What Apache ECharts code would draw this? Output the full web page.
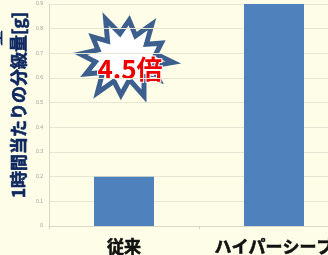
<!DOCTYPE html>
<html><head><meta charset="utf-8">
<script src="https://cdn.jsdelivr.net/npm/echarts@6/dist/echarts.min.js"></script>
<style>html,body{margin:0;padding:0;background:#FDFDE8;}#c{width:328px;height:255px;}</style>
</head><body><div id="c"></div>
<script>
const categories = ['従来', 'ハイパーシーブ'];
const values = [0.2, 0.9];
const yTicks = [0, 0.1, 0.2, 0.3, 0.4, 0.5, 0.6, 0.7, 0.8, 0.9];
const yTitle = '1時間当たりの分級量[g]';
const badge = '4.5倍';

// starburst decoration
const cx = 125, cy = 58;
const outerR = [40, 44, 38, 46, 40, 44, 39, 45, 41, 43, 38, 45];
const innerR = [25, 23, 26, 24, 25, 23, 26, 24, 25, 24, 23, 26];
const starPts = [];
for (let i = 0; i < outerR.length; i++) {
  const a0 = -Math.PI / 2 + 0.1 + i * 2 * Math.PI / outerR.length;
  const a1 = a0 + Math.PI / outerR.length;
  starPts.push([cx + outerR[i] * Math.cos(a0) * 1.05, cy + outerR[i] * Math.sin(a0) * 0.95]);
  starPts.push([cx + innerR[i] * Math.cos(a1) * 1.2, cy + innerR[i] * Math.sin(a1) * 0.95]);
}

const chart = echarts.init(document.getElementById('c'), null, {renderer: 'canvas'});
chart.setOption({
  backgroundColor: '#FDFDE8',
  animation: false,
  grid: {left: 49, top: 4, width: 300, height: 222, outerBoundsMode: 'none', containLabel: false},
  xAxis: {
    type: 'category', data: categories,
    axisLine: {lineStyle: {color: '#D8D8C8', width: 1}},
    axisTick: {show: true, length: 3, lineStyle: {color: '#D0D0C0'}},
    axisLabel: {interval: 0, hideOverlap: false, showMinLabel: true, showMaxLabel: true,
      margin: 12, fontSize: 17, fontWeight: 'bold', color: '#111',
      textBorderColor: '#111', textBorderWidth: 0.6, fontFamily: 'Noto Sans CJK JP'}
  },
  yAxis: {
    type: 'value', min: 0, max: 0.9, interval: 0.1,
    axisLine: {show: true, lineStyle: {color: '#D8D8C8'}},
    axisTick: {show: false},
    splitLine: {lineStyle: {color: '#E6E6D4', width: 1}},
    axisLabel: {fontSize: 5, color: '#999', margin: 6, formatter: v => {
      const t = yTicks.find(x => Math.abs(x - v) < 1e-6);
      return t === undefined ? '' : String(t);
    }}
  },
  series: [{
    type: 'bar', data: values, barWidth: 60,
    itemStyle: {color: '#4F81BD'}
  }],
  graphic: [
    {type: 'text', x: 19, y: 105, rotation: Math.PI / 2,
     style: {text: yTitle, fontSize: 17, fontWeight: 'bold', fill: '#0F2860', stroke: '#0F2860', lineWidth: 0.6,
       fontFamily: 'Noto Sans CJK JP', align: 'center', verticalAlign: 'middle'}},
    {type: 'text', x: -5, y: 38, rotation: Math.PI / 2,
     style: {text: '量', fontSize: 16, fontWeight: 'bold', fill: '#0F2860', fontFamily: 'Noto Sans CJK JP', align: 'center', verticalAlign: 'middle'}},
    {type: 'polygon', shape: {points: starPts},
     style: {fill: '#FFFFFF', stroke: '#3D5F8E', lineWidth: 5, lineJoin: 'miter'}},
    {type: 'text', x: 130, y: 69,
     style: {text: badge, fontSize: 26, fontWeight: 'bold', fill: '#EE0000', stroke: '#FFFFFF', lineWidth: 2,
       align: 'center', verticalAlign: 'middle', fontFamily: 'Noto Sans CJK JP'}}
  ]
});
</script></body></html>
